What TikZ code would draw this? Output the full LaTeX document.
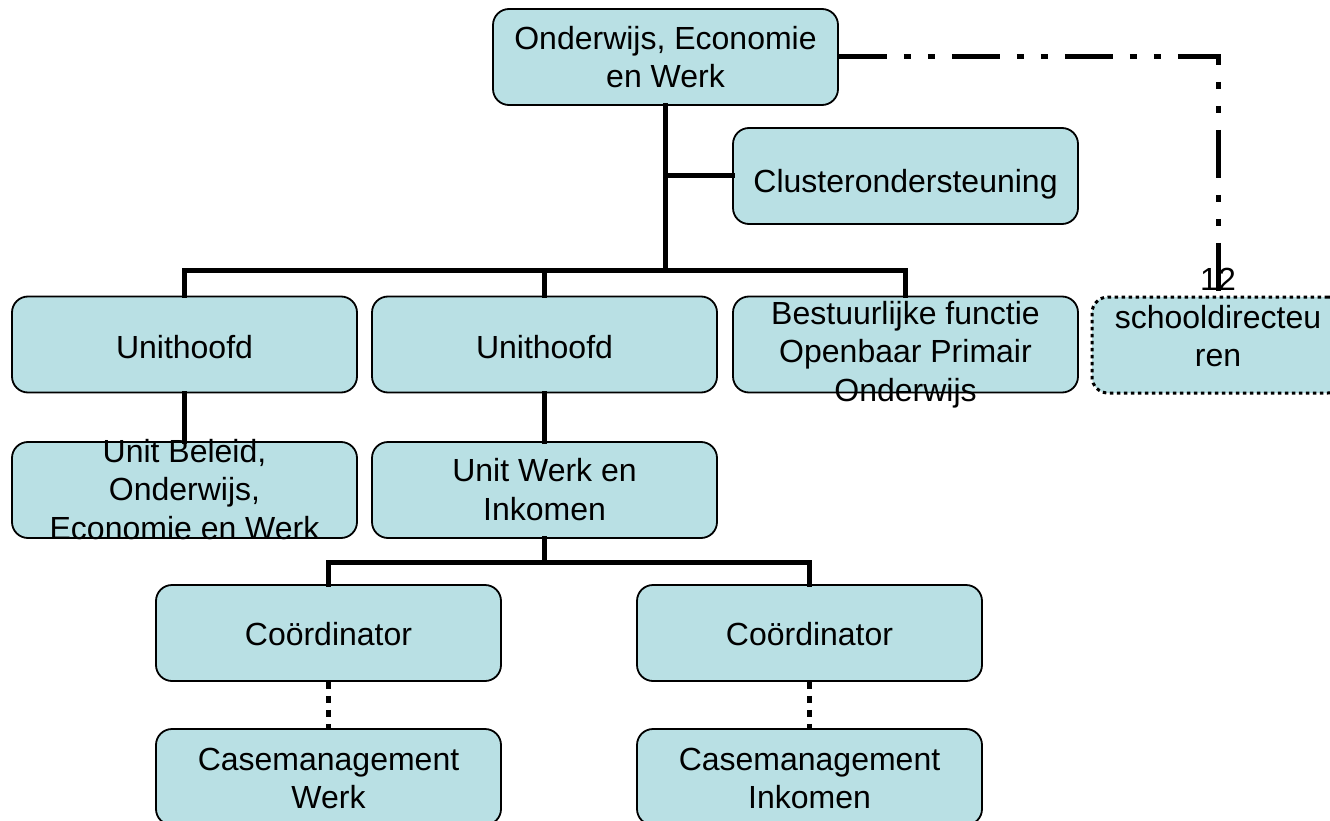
\documentclass[tikz,border=0pt]{standalone}
\usepackage{fontspec}
\setmainfont{Liberation Sans}
\definecolor{boxfill}{RGB}{185,224,228}
\newcommand\mlines[1]{\vtop{\halign{\hfil##\hfil\cr#1\crcr}}}
\tikzset{
  box/.style={draw=black, line width=1.8pt, fill=boxfill, rounded corners=16pt,
    minimum width=345pt, minimum height=96pt, inner sep=0pt},
  txt/.style={anchor=base, inner sep=0pt, font=\fontsize{32}{38.5}\selectfont},
  conn/.style={draw=black, line width=5pt, line cap=rect, line join=miter},
  dotconn/.style={draw=black, line width=5pt, dash pattern=on 7pt off 7pt},
  dashdotdot/.style={draw=black, line width=5pt, dash pattern=on 48pt off 17pt on 7pt off 17pt on 7pt off 17pt},
  dottedbox/.style={box, dash pattern=on 3.5pt off 3.5pt, line width=3pt}
}
\begin{document}
\begin{tikzpicture}[x=1pt,y=-1pt]
\useasboundingbox (0,0) rectangle (1330,821);
\clip (0,0) rectangle (1330,821);
% boxes
\node[box] (top) at (665.5,57) {};
\node[box] (clu) at (905.5,176) {};
\node[box] (u1) at (184.5,344.5) {};
\node[box] (u2) at (544.5,344.5) {};
\node[box] (best) at (905.5,344.5) {};
\node[dottedbox, minimum width=252pt] (school) at (1218,345) {};
\node[box] (ub) at (184.5,490) {};
\node[box] (uw) at (544.5,490) {};
\node[box] (c1) at (328.5,633) {};
\node[box] (c2) at (809.5,633) {};
\node[box] (cm1) at (328.5,777) {};
\node[box] (cm2) at (809.5,777) {};
% texts (anchored at the baseline of the first line)
\node[txt] (ttop) at (665.5,49.5) {\mlines{Onderwijs, Economie\cr en Werk}};
\node[txt] (tclu) at (905.5,193) {Clusterondersteuning};
\node[txt] (tu1) at (184.5,358) {Unithoofd};
\node[txt] (tu2) at (544.5,358) {Unithoofd};
\node[txt] (tbest) at (905.5,324) {\mlines{Bestuurlijke functie\cr Openbaar Primair\cr Onderwijs}};
\node[txt] (tschool) at (1218,328) {\mlines{schooldirecteu\cr ren}};
\node[txt] (tub) at (184.5,462) {\mlines{Unit Beleid,\cr Onderwijs,\cr Economie en Werk}};
\node[txt] (tuw) at (544.5,481.5) {\mlines{Unit Werk en\cr Inkomen}};
\node[txt] (tc1) at (328.5,645) {Coördinator};
\node[txt] (tc2) at (809.5,645) {Coördinator};
\node[txt] (tcm1) at (328.5,770) {\mlines{Casemanagement\cr Werk}};
\node[txt] (tcm2) at (809.5,770) {\mlines{Casemanagement\cr Inkomen}};
% connectors
\coordinate (busA) at (184.5,270);
\coordinate (busC) at (328.5,562);
\draw[conn] (top.south) -- (top.south |- busA);
\draw[conn] (top.south |- clu.west) -- (clu.west);
\draw[conn] (u1.north) -- (u1.north |- busA) -- (best.north |- busA) -- (best.north);
\draw[conn] (u2.north) -- (u2.north |- busA);
\draw[conn] (u1.south) -- (ub.north);
\draw[conn] (u2.south) -- (uw.north);
\draw[conn] (uw.south) -- (uw.south |- busC);
\draw[conn] (c1.north) -- (c1.north |- busC) -- (c2.north |- busC) -- (c2.north);
\draw[dotconn] (c1.south) -- (cm1.north);
\draw[dotconn] (c2.south) -- (cm2.north);
\draw[dashdotdot] (top.east) -- (top.east -| school.north) -- (school.north);
\node[txt] (n12) at (1218,290) {12};
\end{tikzpicture}
\end{document}
